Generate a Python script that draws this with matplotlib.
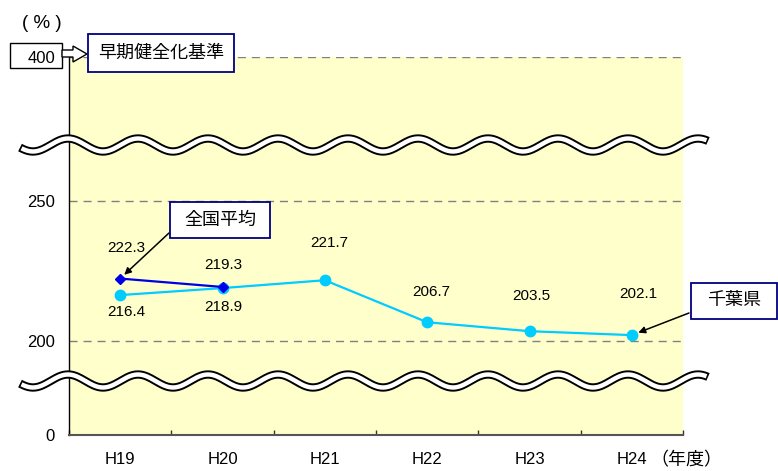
import numpy as np
import matplotlib
matplotlib.use('Agg')
import matplotlib.pyplot as plt
from matplotlib.patches import Rectangle, Polygon
from matplotlib.lines import Line2D

# ---- data ----
years = ['H19', 'H20', 'H21', 'H22', 'H23', 'H24']
chiba = [216.4, 218.9, 221.7, 206.7, 203.5, 202.1]
national = [222.3, 219.3]
yticks = [0, 200, 250, 400]
ytick_labels = ['0', '200', '250', '400']
chiba_name = '千葉県'
national_name = '全国平均'
threshold_name = '早期健全化基準'
y_unit = '( % )'
x_unit = '（年度）'

plt.rcParams['font.family'] = ['Liberation Sans', 'Noto Sans CJK JP']

W, H = 778, 471
fig = plt.figure(figsize=(W / 100, H / 100), dpi=100)


def fx(x):
    return np.asarray(x) / W


def fy(y):
    return 1 - np.asarray(y) / H


ax = fig.add_axes([fx(69), fy(435), (683 - 69) / W, (435 - 57) / H])
ax.set_facecolor('#FFFFCC')

# broken axis through a piecewise scale
brk_in = [0, 200, 250, 400]
brk_out = [0, 94, 234, 378]
fwd = lambda v: np.interp(v, brk_in, brk_out)
inv = lambda p: np.interp(p, brk_out, brk_in)
ax.set_yscale('function', functions=(fwd, inv))
ax.set_ylim(0, 400)
ax.set_xlim(-0.5, len(years) - 0.5)

x = np.arange(len(years))
ax.plot(x, chiba, color='#00CCFF', lw=1.6, marker='o', ms=7.5, zorder=3)
ax.plot(x[:len(national)], national, color='#0000E6', lw=1.6, marker='D',
        ms=5.5, zorder=4)

chiba_off = [(6, -17), (1, -19), (4, 37), (4, 30), (2, 35), (6, 41)]
national_off = [(6, 31), (1, 22)]
for xi, v, (dx, dy) in zip(x, chiba, chiba_off):
    ax.annotate(f'{v:.1f}', (xi, v), xytext=(dx * 0.72, dy * 0.72),
                textcoords='offset points', ha='center', va='center',
                fontsize=11, color='black')
for xi, v, (dx, dy) in zip(x, national, national_off):
    ax.annotate(f'{v:.1f}', (xi, v), xytext=(dx * 0.72, dy * 0.72),
                textcoords='offset points', ha='center', va='center',
                fontsize=11, color='black')

ax.set_yticks(yticks, ytick_labels)
ax.set_xticks(x, years)
ax.set_xticks(np.arange(-0.5, len(years), 1), minor=True)
ax.tick_params(axis='y', length=0, pad=10, labelsize=12)
ax.tick_params(axis='x', which='major', length=0, pad=12, labelsize=12)
ax.tick_params(axis='x', which='minor', direction='in', length=3.6, width=1,
               color='#333333')
ax.grid(axis='y', color='#808080', linestyle=(0, (5.8, 4.3)), lw=1)
for s in ['top', 'right']:
    ax.spines[s].set_visible(False)
ax.spines['left'].set_color('black')
ax.spines['left'].set_linewidth(1)
ax.spines['bottom'].set_color('#555555')
ax.spines['bottom'].set_linewidth(1.5)

# wavy break marks
for yc in (145, 381):
    xs = np.linspace(20, 708, 600)
    ys = yc - 6.5 * np.cos(2 * np.pi * (xs - 68) / 70)
    fig.add_artist(Line2D(fx(xs), fy(ys), transform=fig.transFigure,
                          color='black', lw=6.0, solid_capstyle='butt',
                          zorder=5))
    xs2 = np.linspace(21.5, 706.5, 600)
    ys2 = yc - 6.5 * np.cos(2 * np.pi * (xs2 - 68) / 70)
    fig.add_artist(Line2D(fx(xs2), fy(ys2), transform=fig.transFigure,
                          color='white', lw=3.2, solid_capstyle='butt',
                          zorder=6))


def box(x0, y0, x1, y1, ec, lw=1.3, z=7):
    fig.add_artist(Rectangle((fx(x0), fy(y1)), (x1 - x0) / W, (y1 - y0) / H,
                             transform=fig.transFigure, facecolor='white',
                             edgecolor=ec, lw=lw, zorder=z))


# 400 box (behind the axes so the tick label shows) + hollow arrow
box(10, 43, 62, 68, 'black', 1.0, z=-1)
pts = [(62, 50), (73, 50), (73, 46), (87, 54), (73, 62), (73, 57), (62, 57)]
fig.add_artist(Polygon([(fx(a), fy(b)) for a, b in pts], closed=True,
                       transform=fig.transFigure, facecolor='white',
                       edgecolor='black', lw=1.0, zorder=8))
box(88, 34, 234, 72, '#000080')
fig.text(fx(161), fy(53), threshold_name, ha='center', va='center',
         fontsize=13, zorder=9)

# callouts
box(170, 202, 270, 238, '#000080')
fig.text(fx(220), fy(220), national_name, ha='center', va='center',
         fontsize=13, zorder=9)
box(691, 283, 777, 319, '#000080')
fig.text(fx(734), fy(301), chiba_name, ha='center', va='center',
         fontsize=13, zorder=9)

ax.annotate('', xy=(0, national[0]), xycoords='data',
            xytext=(169, H - 233), textcoords='figure pixels',
            arrowprops=dict(arrowstyle='-|>', color='black', lw=1.1,
                            shrinkA=0, shrinkB=4, mutation_scale=10),
            annotation_clip=False)
ax.annotate('', xy=(len(years) - 1, chiba[-1]), xycoords='data',
            xytext=(689, H - 313), textcoords='figure pixels',
            arrowprops=dict(arrowstyle='-|>', color='black', lw=1.1,
                            shrinkA=0, shrinkB=5, mutation_scale=10),
            annotation_clip=False)

fig.text(fx(42), fy(24), y_unit, ha='center', va='center', fontsize=13.5)
fig.text(fx(686), fy(461), x_unit, ha='center', va='center', fontsize=13)

fig.savefig('out.png', dpi=100)
